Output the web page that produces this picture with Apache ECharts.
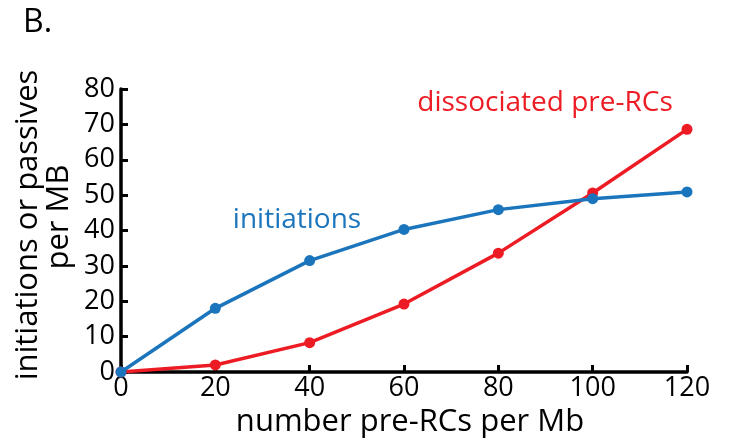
<!DOCTYPE html>
<html>
<head>
<meta charset="utf-8">
<script src="https://cdn.jsdelivr.net/npm/echarts@6/dist/echarts.min.js"></script>
<style>
html,body{margin:0;padding:0;background:#fff;}
#chart{width:730px;height:446px;}
</style>
</head>
<body>
<div id="chart"></div>
<script>
var xValues = [0, 20, 40, 60, 80, 100, 120];
var initiations = [0, 18.0, 31.5, 40.3, 45.9, 49.0, 50.9];
var dissociated = [0, 2.0, 8.3, 19.2, 33.6, 50.6, 68.6];
var xTicks = [0, 20, 40, 60, 80, 100, 120];
var yTicks = [0, 10, 20, 30, 40, 50, 60, 70, 80];
var panelLabel = 'B.';
var xTitle = 'number pre-RCs per Mb';
var yTitle1 = 'initiations or passives';
var yTitle2 = 'per MB';
var labelInit = 'initiations';
var labelDiss = 'dissociated pre-RCs';

var BLUE = '#1b75bc';
var RED = '#ed1c24';
var FONT = '"Open Sans", sans-serif';

function pairs(ys) { return xValues.map(function (x, i) { return [x, ys[i]]; }); }

var chart = echarts.init(document.getElementById('chart'), null, {renderer: 'canvas'});
chart.setOption({
  animation: false,
  grid: {left: 121, right: 43, top: 89, bottom: 74},
  xAxis: {
    type: 'value', min: xTicks[0], max: xTicks[xTicks.length - 1], interval: 20,
    axisLine: {show: true, lineStyle: {color: '#000', width: 3.5}},
    axisTick: {show: true, inside: true, length: 7, lineStyle: {color: '#000', width: 3}},
    axisLabel: {color: '#000', fontFamily: FONT, fontSize: 27, margin: 3},
    splitLine: {show: false}
  },
  yAxis: {
    type: 'value', min: yTicks[0], max: yTicks[yTicks.length - 1], interval: 10,
    axisLine: {show: true, lineStyle: {color: '#000', width: 3.5}},
    axisTick: {show: true, inside: true, length: 7, lineStyle: {color: '#000', width: 3}},
    axisLabel: {color: '#000', fontFamily: FONT, fontSize: 27, margin: 6},
    splitLine: {show: false}
  },
  series: [
    {type: 'line', data: pairs(dissociated), symbol: 'circle', symbolSize: 11,
     lineStyle: {color: RED, width: 3.5}, itemStyle: {color: RED}, z: 2},
    {type: 'line', data: pairs(initiations), symbol: 'circle', symbolSize: 11,
     lineStyle: {color: BLUE, width: 3.5}, itemStyle: {color: BLUE}, z: 3}
  ],
  graphic: [
    {type: 'text', left: 23, top: 7, style: {text: panelLabel, font: '32px ' + FONT, fill: '#000'}},
    {type: 'text', x: 410, y: 422, style: {text: xTitle, font: '31px ' + FONT, fill: '#000', align: 'center', verticalAlign: 'middle'}},
    {type: 'text', x: 28, y: 225, rotation: Math.PI / 2, style: {text: yTitle1, font: '31px ' + FONT, fill: '#000', align: 'center', verticalAlign: 'middle'}},
    {type: 'text', x: 59, y: 217, rotation: Math.PI / 2, style: {text: yTitle2, font: '31px ' + FONT, fill: '#000', align: 'center', verticalAlign: 'middle'}},
    {type: 'text', x: 297, y: 220, style: {text: labelInit, font: '28px ' + FONT, fill: BLUE, align: 'center', verticalAlign: 'middle'}},
    {type: 'text', x: 545, y: 103, style: {text: labelDiss, font: '28px ' + FONT, fill: RED, align: 'center', verticalAlign: 'middle'}}
  ]
});
</script>
</body>
</html>
